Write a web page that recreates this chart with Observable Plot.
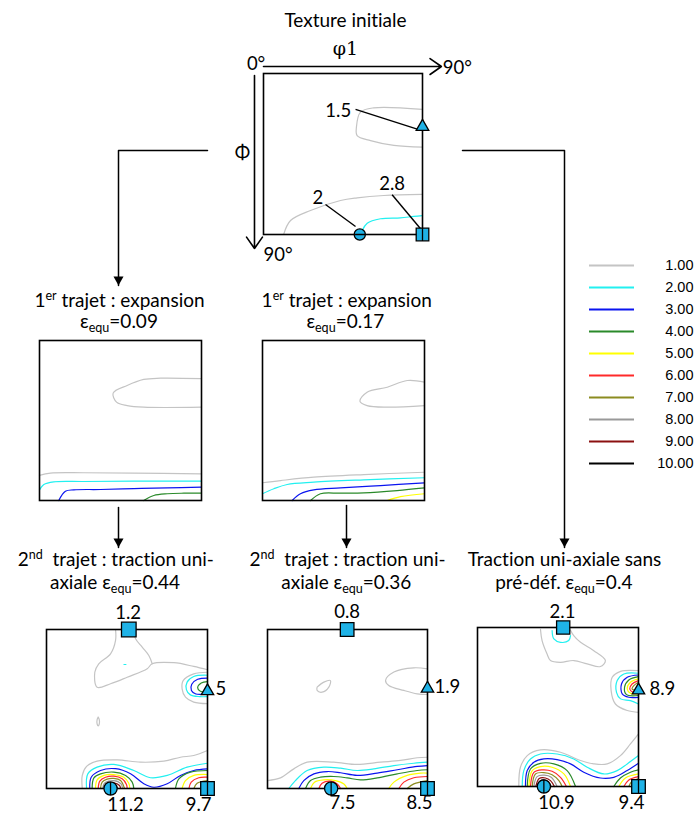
<!DOCTYPE html>
<html><head><meta charset="utf-8">
<script src="https://cdn.jsdelivr.net/npm/d3@7"></script>
<script src="https://cdn.jsdelivr.net/npm/@observablehq/plot@0.6"></script>
<style>
body{margin:0;background:#fff;}
*{font-variant-ligatures:none;font-feature-settings:"liga" 0;}
#page{position:relative;width:699px;height:815px;overflow:hidden;font-family:Lato,"Open Sans",sans-serif;color:#000;}
#page svg{position:absolute;left:0;top:0;overflow:visible;background:transparent;}
#page svg text{font-variant-ligatures:none;}
.title{position:absolute;transform:translate(-50%,-50%);white-space:nowrap;font-size:19px;line-height:1;}
.title sup{font-size:0.66em;vertical-align:0.55em;}
.title sub{font-size:0.66em;vertical-align:-0.3em;}
</style></head><body><div id="page"></div>
<script>
// ---------- legend levels ----------
const levels = [1,2,3,4,5,6,7,8,9,10];
const levelLabels = ["1.00","2.00","3.00","4.00","5.00","6.00","7.00","8.00","9.00","10.00"];
const levelColors = ["#c4c4c4","#22f0f0","#0a14f0","#2a8a2a","#ffff00","#ff2a2a","#8c8c20","#999999","#8b1010","#000000"];

// ---------- contour lines per section (phi1, Phi in degrees) ----------
const contoursInitial = [
  [1, [[90,20.1],[62.4,19.2],[54.9,21.6],[52.6,30],[53,34.7],[60.6,37.5],[73.8,40.2],[90,41.2]]],
  [1, [[11.4,90],[15.3,82.2],[26.6,76.6],[43.6,71],[53,69.5],[68.1,68.2],[90,67.6]]],
  [2, [[55.9,87.8],[58.7,83.7],[66.2,81.2],[77.5,80.7],[85.1,79.9],[90,79.5]]]
];
const contoursExp009 = [
  [1, [[90,21.5],[67.2,21.2],[57.9,21.9],[48.7,25.3],[40.9,29.6],[42.8,34.7],[48.7,36.6],[57.9,37.5],[90,37.5]]],
  [1, [[0,75.9],[6.1,74.6],[24.6,74.4],[52.4,74.6],[90,75]]],
  [2, [[0,84],[2.4,81],[7.9,79.5],[24.6,79.3],[52.4,79.1],[90,79.1]]],
  [3, [[10.7,90],[14.4,84.8],[19.1,84],[33.9,83.8],[52.4,83.3],[71,82.9],[90,82.5]]],
  [4, [[57.9,90],[63.5,87.2],[71,86.2],[80.2,85.9],[90,85.9]]]
];
const contoursExp017 = [
  [1, [[90,23.4],[80.4,22.5],[69.3,26.3],[58.1,29.1],[54.1,34.1],[58.1,36.6],[69.3,37.5],[90,36.6]]],
  [1, [[0,80],[10,78.8],[28.5,76.9],[56.3,75.4],[90,74.1]]],
  [2, [[0,86.2],[6.3,83.4],[13.7,81],[28.5,79.7],[56.3,78.4],[90,77.2]]],
  [3, [[16.5,90],[21.1,86.2],[28.5,84],[43.3,82.9],[65.6,81.6],[90,80.1]]],
  [4, [[26.7,90],[32.2,86.2],[43.3,85.9],[56.3,85.7],[74.8,84.4],[90,82.9]]],
  [5, [[69.3,90],[76.7,87.8],[90,86.2]]]
];
const contoursTr044 = [
  [1, [[38.6,0],[38.6,6.2],[35.8,13.8],[29.2,19.4],[27,24.2],[28.3,32.7],[35.8,30.7],[45.1,27],[56.3,22.2],[59.1,19.4],[71.2,18.8],[82.3,20.9],[90,22.8]]],
  [1, [[48.8,0],[49.8,5.3],[53.5,10],[57.2,14.7],[59.1,19.4]]],
  [2, [[43.3,19.8],[44.4,19.8]]],
  [1, [[28.9,49.6],[29.5,51],[29.5,53.5],[28.9,54.5],[28.3,53.5],[28.3,51],[28.9,49.6]]],
  [1, [[90,24.2],[82.3,25.1],[76.4,28.9],[75.8,33.6],[77.7,38.3],[82.3,41.1],[90,42]]],
  [2, [[90,25.9],[82.3,26.6],[78.6,29.8],[78.2,34],[80.4,37],[85.6,38],[90,38]]],
  [3, [[90,27.5],[84.5,28.2],[81.2,31],[81,34.5],[83.5,36.5],[90,36.5]]],
  [4, [[90,29.5],[86.5,30.3],[84.5,33],[86,35],[90,35.3]]],
  [1, [[20,90],[20,82.6],[22.4,77.5],[28.3,74.5],[39.5,73.8],[52.5,75.1],[65.6,74.5],[74.9,72.3],[82.3,71.3],[90,68.5]]],
  [2, [[22.4,90],[23.1,81.7],[28.3,77.9],[37.6,76.4],[48.8,79.8],[58.1,83.9],[67.5,82.6],[78.6,77.9],[90,75.7]]],
  [3, [[24.2,90],[25,83.6],[30.2,79.8],[38.6,78.8],[47,81.7],[54.4,87.3],[60,89.3],[67.5,87.3],[74.9,82.6],[82.3,79.8],[90,78.9]]],
  [4, [[25.5,90],[26.5,84],[30.2,81.7],[37.6,80.7],[44.2,82.6],[47.9,86.4],[48.8,90]]],
  [5, [[27.4,90],[28.3,85.1],[32.1,82.6],[37.6,82.1],[43.2,83.6],[46,87],[46.6,90]]],
  [6, [[28.9,90],[29.8,85.8],[33,83.6],[37.6,83],[42.3,84.5],[44.7,87.7],[45.1,90]]],
  [7, [[30.2,90],[31.1,86.4],[33.9,84.7],[37.6,84.3],[41.4,85.5],[43.6,90]]],
  [8, [[31.5,90],[32.4,87],[37.6,85.5],[41.7,87.4],[42.5,90]]],
  [9, [[32.6,90],[33.9,87.7],[37.6,86.8],[40.8,88.3],[41.4,90]]],
  [10,[[33.9,90],[35.2,88.5],[37.6,87.9],[39.9,90]]],
  [4, [[72.1,90],[74,84.5],[80.5,80.7],[90,79.8]]],
  [5, [[75.8,90],[77.7,85.5],[82.4,82.6],[90,82.1]]],
  [6, [[79.6,90],[80.9,86.4],[85.1,83.9],[90,83.6]]],
  [7, [[82.4,90],[84.2,87],[90,85.5]]]
];
const contoursTr036 = [
  [1, [[90,22.3],[82.3,21.7],[71.1,24.1],[66.4,28.9],[68.2,31.7],[76.7,34.5],[84.2,36.4],[90,36.8]]],
  [1, [[27.9,32.6],[31.7,29.8],[35.4,28.9],[34.5,32.6],[30.7,35.5],[27.9,34.5],[27.9,32.6]]],
  [1, [[0,85.5],[7.3,84],[14.8,78.9],[22.3,75.1],[37.3,75.1],[50.4,76.4],[63.6,75.1],[74.8,74.1],[84.2,72.6],[90,72.3]]],
  [2, [[12,90],[15.7,85.5],[22.3,79.8],[31.7,77.9],[41.1,78.5],[50.4,79.8],[59.8,78.9],[71.1,77],[82.3,75.7],[90,75.1]]],
  [3, [[17.6,90],[20.4,85.5],[26.1,81.7],[33.6,80.4],[41.1,81.1],[50.4,82.6],[61.7,81.3],[73,79.4],[84.2,77.5],[90,77]]],
  [4, [[21.4,90],[24.2,85.5],[29.8,83.6],[37.3,83.2],[44.8,84],[52.3,85.1],[61.7,84],[73,81.7],[84.2,79.8],[90,79.4]]],
  [5, [[24.2,90],[26.4,86.4],[31.7,85.1],[38.2,85.5],[43,87.4],[44.8,90]]],
  [5, [[68.2,90],[71.1,86.4],[78.6,82.6],[86.1,81.3],[90,81.3]]],
  [6, [[28.9,90],[30.7,87],[35.4,85.8],[39.2,87.4],[41.1,90]]],
  [6, [[73.9,90],[76.7,86.4],[82.3,83.9],[90,83.2]]],
  [7, [[78.6,90],[82.3,87.4],[90,85.5]]]
];
const contoursTr04 = [
  [1, [[35.2,1],[36.1,7.4],[38.9,15],[40.8,18.7],[46.4,19.7],[53.8,18.7],[61.3,20.6],[68.7,22.1],[71.5,18.7],[65,13.1],[57.6,8.4],[53.8,4.6],[52,1.5]]],
  [2, [[41.7,1.7],[42.7,6.5],[46.4,8.4],[51,7.4],[52,4.6]]],
  [1, [[90,24.4],[80,24.8],[75.3,28.2],[74.7,35.7],[77.1,43.3],[83.7,47],[90,48]]],
  [2, [[90,25.9],[81.8,26.3],[78.1,30],[77.7,36.7],[80,40.4],[85.5,41.4],[90,43.3]]],
  [3, [[90,26.9],[83.7,28.2],[80.5,32],[80.9,37.6],[84.6,39.5],[90,39.5]]],
  [4, [[90,27.8],[84.6,29.7],[82.2,33.8],[83.3,38],[90,38.5]]],
  [5, [[90,29.1],[85.5,31],[83.7,34.8],[85.5,37.2],[90,37.6]]],
  [6, [[90,30.1],[86.4,32],[85.1,34.8],[87,36.7],[90,36.7]]],
  [7, [[90,31],[87.4,32.9],[86.4,34.8],[90,35.7]]],
  [1, [[23.1,90],[24,79.1],[27.8,72.5],[35.2,69.3],[46.4,70.6],[57.6,75.3],[65,77.2],[72.5,77.2],[79.9,72.5],[85.5,65.9],[90,60.2]]],
  [2, [[25,90],[25.9,81],[29.6,74.4],[35.2,71.6],[44.5,71.6],[53.8,74.4],[61.3,79.1],[70.6,82.9],[78.1,81],[83.7,77.2],[90,72.5]]],
  [3, [[26.8,90],[27.8,81],[31.5,76.3],[37.1,74.4],[44.5,74.8],[52,77.2],[59.4,81.9],[68.7,85.2],[76.2,84.8],[83.7,81],[90,76.9]]],
  [4, [[27.8,90],[29.6,80.1],[35.2,76.9],[42.7,77.2],[50.1,81],[54.8,90]]],
  [4, [[76.2,90],[79.9,85.2],[85.5,81.9],[90,80.6]]],
  [5, [[28.7,90],[30.6,81],[35.2,78.7],[41.7,79.1],[48.3,82.9],[52,90]]],
  [5, [[79,90],[82.7,85.2],[90,82.9]]],
  [6, [[29.6,90],[31.5,82],[36.1,80.6],[41.7,81.4],[46.4,84.8],[49.7,90]]],
  [6, [[81.8,90],[84.6,86.3],[90,84.4]]],
  [7, [[30.6,90],[32.4,82.9],[37.1,82.1],[41.7,83.3],[45.5,86.7],[47.3,90]]],
  [7, [[84.6,90],[86.4,87],[90,85.7]]],
  [8, [[31.5,90],[33.3,84.4],[37.4,83.6],[41.2,84.8],[44.5,90]]],
  [9, [[32.6,90],[34.5,85.5],[38,85.2],[40.8,86.7],[43,90]]],
  [10,[[33.7,90],[35.2,86.7],[38.6,86.7],[41.2,90]]]
];

// ---------- orientation markers and their intensity values ----------
const markersInitial = [
  {shape:"triangle", x:90, y:29, r:6.3},
  {shape:"circleH", x:54.5, y:90, r:5.6},
  {shape:"squareV", x:90, y:90, r:6.3}
];
const valuesInitial = [
  {text:"1.5", x:49.6, y:21.1, anchor:"end"},
  {text:"2", x:30.8, y:69.8, anchor:"middle"},
  {text:"2.8", x:72.8, y:62, anchor:"middle"}
];
const leadersInitial = [
  {x1:52.1, y1:20.1, x2:87.9, y2:31.4},
  {x1:35.1, y1:73.2, x2:52.1, y2:85.5},
  {x1:72.8, y1:67.8, x2:88.9, y2:86.8}
];
const markersTr044 = [
  {shape:"square", x:46, y:0, r:7.3},
  {shape:"triangle", x:90, y:34.1, r:6.2},
  {shape:"circleV", x:35.8, y:90, r:6.6},
  {shape:"squareV", x:90, y:90, r:6.8}
];
const valuesTr044 = [
  {text:"1.2", x:45.6, y:-9.1, anchor:"middle"},
  {text:"5", x:94.5, y:34, anchor:"start"},
  {text:"11.2", x:44.2, y:99.6, anchor:"middle"},
  {text:"9.7", x:85, y:99.6, anchor:"middle"}
];
const markersTr036 = [
  {shape:"square", x:44.8, y:0, r:6.8},
  {shape:"triangle", x:90, y:32.6, r:6.2},
  {shape:"circleV", x:35.8, y:90, r:6.6},
  {shape:"squareV", x:90, y:90, r:6.8}
];
const valuesTr036 = [
  {text:"0.8", x:44.8, y:-9.8, anchor:"middle"},
  {text:"1.9", x:93.9, y:32.7, anchor:"start"},
  {text:"7.5", x:42.2, y:98.5, anchor:"middle"},
  {text:"8.5", x:85.5, y:98.5, anchor:"middle"}
];
const markersTr04 = [
  {shape:"square", x:47.9, y:0, r:6.6},
  {shape:"triangle", x:90, y:34.8, r:6.2},
  {shape:"circleV", x:37.1, y:90, r:6.6},
  {shape:"squareV", x:90, y:90, r:6.8}
];
const valuesTr04 = [
  {text:"2.1", x:47.5, y:-8.8, anchor:"middle"},
  {text:"8.9", x:96.1, y:34.8, anchor:"start"},
  {text:"10.9", x:44.2, y:99.6, anchor:"middle"},
  {text:"9.4", x:86.1, y:99.6, anchor:"middle"}
];

// ---------- Euler-space axis annotations (top section) ----------
const axisArrows = [
  {x1:0, y1:-3.9, x2:100.7, y2:-3.9},
  {x1:-5.1, y1:1.1, x2:-5.1, y2:97.8}
];
const axisTexts = [
  {text:"0°", x:-4.2, y:-5, anchor:"middle"},
  {text:"90°", x:101.5, y:-3, anchor:"start"},
  {text:"Φ", x:-11.9, y:44.4, anchor:"middle"},
  {text:"90°", x:0, y:101.7, anchor:"start"}
];
const axisSymbolPhi1 = [{text:"φ1", x:46.4, y:-14}];

// ---------- titles ----------
const titles = [
  {html:"Texture initiale", x:345.5, y:19},
  {html:"1<sup>er</sup> trajet : expansion", x:119.5, y:299},
  {html:"ε<sub>equ</sub>=0.09", x:119, y:323},
  {html:"1<sup>er</sup> trajet : expansion", x:346.7, y:299},
  {html:"ε<sub>equ</sub>=0.17", x:345.3, y:323},
  {html:"2<sup>nd</sup>&nbsp; trajet : traction uni-", x:115.8, y:558},
  {html:"axiale ε<sub>equ</sub>=0.44", x:115, y:584},
  {html:"2<sup>nd</sup>&nbsp; trajet : traction uni-", x:347.5, y:558},
  {html:"axiale ε<sub>equ</sub>=0.36", x:346.3, y:584},
  {html:"Traction uni-axiale sans", x:564.5, y:558},
  {html:"pré-déf. ε<sub>equ</sub>=0.4", x:563.8, y:584}
];

// ---------- layout ----------
const W = 699, H = 815;
const frames = {
  initial: {left:263, right:422, top:73, bottom:234},
  exp009:  {left:39,  right:201, top:340, bottom:500},
  exp017:  {left:262, right:424, top:340, bottom:500},
  tr044:   {left:46,  right:207, top:629, bottom:788},
  tr036:   {left:267, right:427, top:629, bottom:788},
  tr04:    {left:477, right:638, top:627, bottom:786}
};
const connectorY = 150, arrowTipY = 547;
const connectors = [
  {id:"a", pts:[[frames.initial.left-56, connectorY],[118, connectorY],[118, 285]]},
  {id:"b", pts:[[118, frames.exp009.bottom+7],[118, arrowTipY]]},
  {id:"c", pts:[[346, frames.exp017.bottom+5],[346, arrowTipY]]},
  {id:"d", pts:[[frames.initial.right+40, connectorY],[564, connectorY],[564, arrowTipY]]}
];

// ---------- symbols ----------
const rad = s => Math.sqrt(s/Math.PI);
const symbols = {
  triangle: {draw(c,s){const r=rad(s); c.moveTo(0,-0.95*r); c.lineTo(r,0.8*r); c.lineTo(-r,0.8*r); c.closePath();}},
  circleH: {draw(c,s){const r=rad(s); c.moveTo(r,0); c.arc(0,0,r,0,2*Math.PI); c.closePath(); c.moveTo(-r,0); c.lineTo(r,0);}},
  circleV: {draw(c,s){const r=rad(s); c.moveTo(r,0); c.arc(0,0,r,0,2*Math.PI); c.closePath(); c.moveTo(0,-r); c.lineTo(0,r);}},
  square: {draw(c,s){const r=rad(s); c.moveTo(-r,-r); c.lineTo(r,-r); c.lineTo(r,r); c.lineTo(-r,r); c.closePath();}},
  squareV: {draw(c,s){const r=rad(s); c.moveTo(-r,-r); c.lineTo(r,-r); c.lineTo(r,r); c.lineTo(-r,r); c.closePath(); c.moveTo(0,-r); c.lineTo(0,r);}},
  tipDown: {draw(c,s){c.moveTo(0,0); c.lineTo(5,-9); c.lineTo(-5,-9); c.closePath();}}
};

const page = document.getElementById("page");
const FONT = "Lato";
const markerFill = "#1fb2e6";

function section(frame, contours, markers, values, extra = []) {
  const rows = contours.flatMap(([level, pts], i) => pts.map(([x, y]) => ({x, y, level, seg: i})));
  return Plot.plot({
    width: W, height: H,
    marginLeft: frame.left, marginRight: W - frame.right,
    marginTop: frame.top, marginBottom: H - frame.bottom,
    x: {domain: [0, 90], axis: null},
    y: {domain: [0, 90], reverse: true, axis: null},
    color: {domain: levels, range: levelColors},
    style: {background: "transparent", overflow: "visible"},
    marks: [
      Plot.line(rows, {x: "x", y: "y", z: "seg", stroke: "level", strokeWidth: 1.2, curve: "catmull-rom"}),
      Plot.frame({stroke: "#000", strokeWidth: 1.6}),
      ...extra,
      ...markers.map(m => Plot.dot([m], {
        x: "x", y: "y", r: m.r, symbol: symbols[m.shape], fill: markerFill, stroke: "#000", strokeWidth: 1.3
      })),
      ...["start", "middle", "end"].map(a => Plot.text(values.filter(d => d.anchor === a), {
        x: "x", y: "y", text: "text", textAnchor: a, fontSize: 18.5, fontFamily: FONT, fill: "#000"
      }))
    ]
  });
}

// top section with axis annotations and leaders
const topExtra = [
  Plot.arrow(axisArrows, {x1: "x1", y1: "y1", x2: "x2", y2: "y2", stroke: "#000", strokeWidth: 1.6, headLength: 13, headAngle: 70}),
  Plot.link(leadersInitial, {x1: "x1", y1: "y1", x2: "x2", y2: "y2", stroke: "#000", strokeWidth: 1.4}),
  ...["start", "middle", "end"].map(a => Plot.text(axisTexts.filter(d => d.anchor === a), {
    x: "x", y: "y", text: "text", textAnchor: a, fontSize: 18.5, fontFamily: FONT, fill: "#000"
  })),
  Plot.text(axisSymbolPhi1, {x: "x", y: "y", text: "text", fontSize: 19, fontFamily: "DejaVu Serif", fill: "#000"})
];

// connectors
const connRows = connectors.flatMap(c => c.pts.map(([x, y]) => ({id: c.id, x, y})));
const connTips = connectors.map(c => ({x: c.pts[c.pts.length-1][0], y: c.pts[c.pts.length-1][1]}));
const connPlot = Plot.plot({
  width: W, height: H, margin: 0,
  x: {type: "identity", axis: null}, y: {type: "identity", axis: null},
  style: {background: "transparent", overflow: "visible"},
  marks: [
    Plot.line(connRows, {x: "x", y: "y", z: "id", stroke: "#000", strokeWidth: 1.5}),
    Plot.dot(connTips, {x: "x", y: "y", symbol: symbols.tipDown, r: 5, fill: "#000", stroke: "none"})
  ]
});

// legend
const legendPlot = Plot.plot({
  width: W, height: H,
  marginLeft: 589, marginRight: W - 634, marginTop: 261, marginBottom: H - 466,
  x: {domain: [0, 1], axis: null},
  y: {type: "point", domain: levels, padding: 0, axis: null},
  color: {domain: levels, range: levelColors},
  style: {background: "transparent", overflow: "visible"},
  marks: [
    Plot.ruleY(levels, {y: d => d, x1: 0, x2: 1, stroke: d => d, strokeWidth: 2}),
    Plot.text(levelLabels, {y: (d, i) => levels[i], x: 1, dx: 59, text: d => d, textAnchor: "end",
      fontSize: 14.5, fontFamily: "Liberation Sans", fill: "#000"})
  ]
});

page.append(connPlot);
page.append(section(frames.initial, contoursInitial, markersInitial, valuesInitial, topExtra));
page.append(section(frames.exp009, contoursExp009, [], []));
page.append(section(frames.exp017, contoursExp017, [], []));
page.append(section(frames.tr044, contoursTr044, markersTr044, valuesTr044));
page.append(section(frames.tr036, contoursTr036, markersTr036, valuesTr036));
page.append(section(frames.tr04, contoursTr04, markersTr04, valuesTr04));
page.append(legendPlot);

for (const t of titles) {
  const div = document.createElement("div");
  div.className = "title";
  div.style.left = t.x + "px";
  div.style.top = t.y + "px";
  div.innerHTML = t.html;
  page.append(div);
}
</script></body></html>
